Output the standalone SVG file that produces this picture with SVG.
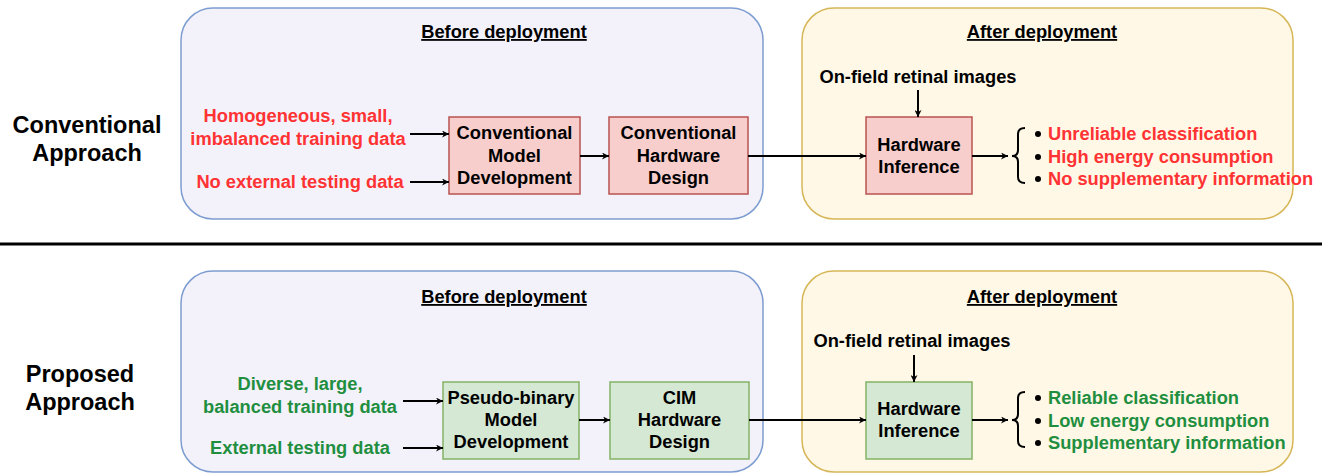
<svg xmlns="http://www.w3.org/2000/svg" width="1324" height="474" viewBox="0 0 1324 474">
<defs>
<marker id="ah" viewBox="0 0 10 10" refX="10" refY="5" markerWidth="9" markerHeight="7" markerUnits="userSpaceOnUse" orient="auto">
<path d="M0,0 L10,5 L0,10 L3,5 Z" fill="#000"/>
</marker>
<style>
text{font-family:"Liberation Sans",Arial,sans-serif;font-weight:bold;font-size:18.3px;fill:#000}
.t{text-anchor:middle}
.title{text-decoration:underline}
.side{font-size:23.5px;text-anchor:middle}
.red{fill:#FF3333}
.green{fill:#1F8F3F}
.pb{fill:#F3F2FB;stroke:#7D9DD0;stroke-width:1.5}
.pa{fill:#FFF8E7;stroke:#D6B656;stroke-width:1.5}
.rb{fill:#F8CECC;stroke:#B85450;stroke-width:1.5}
.gb{fill:#D5E8D4;stroke:#82B366;stroke-width:1.5}
.c{stroke:#000;stroke-width:2;fill:none;marker-end:url(#ah)}
.br{stroke:#000;stroke-width:2;fill:none}
</style>
</defs>
<rect width="1324" height="474" fill="#fff"/>
<g id="labels">
<text class="side" x="87" y="133">Conventional</text>
<text class="side" x="87" y="161">Approach</text>
<text class="side" x="80" y="382">Proposed</text>
<text class="side" x="80" y="410">Approach</text>
<line x1="0" y1="244" x2="1322" y2="244" stroke="#000" stroke-width="3"/>
</g>
<g id="panel-top-before">
<rect class="pb" x="181" y="8" width="582" height="211" rx="32"/>
<text class="t title" x="504" y="38">Before deployment</text>
</g>
<g id="panel-top-after">
<rect class="pa" x="802" y="8" width="491" height="211" rx="32"/>
<text class="t title" x="1042" y="38">After deployment</text>
</g>
<g id="panel-bottom-before">
<rect class="pb" x="181" y="271" width="582" height="201" rx="32"/>
<text class="t title" x="504" y="303">Before deployment</text>
</g>
<g id="panel-bottom-after">
<rect class="pa" x="802" y="271" width="491" height="201" rx="32"/>
<text class="t title" x="1042" y="303">After deployment</text>
</g>
<g id="top-inputs">
<text class="t red" x="298" y="122">Homogeneous, small,</text>
<text class="t red" x="298" y="145">imbalanced training data</text>
<text class="t red" x="300" y="188">No external testing data</text>
<text class="t" x="918" y="83">On-field retinal images</text>
</g>
<g id="node-conv-model">
<rect class="rb" x="449" y="117" width="131" height="77"/>
<text class="t" x="514.5" y="139">Conventional</text>
<text class="t" x="514.5" y="162">Model</text>
<text class="t" x="514.5" y="184">Development</text>
</g>
<g id="node-conv-hw">
<rect class="rb" x="609" y="117" width="139" height="77"/>
<text class="t" x="678.5" y="139">Conventional</text>
<text class="t" x="678.5" y="162">Hardware</text>
<text class="t" x="678.5" y="184">Design</text>
</g>
<g id="node-top-inference">
<rect class="rb" x="866" y="117" width="106" height="77"/>
<text class="t" x="919" y="151">Hardware</text>
<text class="t" x="919" y="173">Inference</text>
</g>
<g id="top-outcomes">
<path class="br" d="M1025,128 Q1018,128 1018,134 L1018,150 Q1018,156 1012,156 Q1018,156 1018,162 L1018,177 Q1018,183 1025,183"/>
<circle cx="1038" cy="134" r="3"/>
<circle cx="1038" cy="157" r="3"/>
<circle cx="1038" cy="179" r="3"/>
<text class="red" x="1048" y="140">Unreliable classification</text>
<text class="red" x="1048" y="163">High energy consumption</text>
<text class="red" x="1048" y="185">No supplementary information</text>
</g>
<g id="bottom-inputs">
<text class="t green" x="300" y="390">Diverse, large,</text>
<text class="t green" x="300" y="413">balanced training data</text>
<text class="t green" x="300" y="454">External testing data</text>
<text class="t" x="912" y="347">On-field retinal images</text>
</g>
<g id="node-pb-model">
<rect class="gb" x="443" y="382" width="136" height="77"/>
<text class="t" x="511" y="404">Pseudo-binary</text>
<text class="t" x="511" y="426">Model</text>
<text class="t" x="511" y="448">Development</text>
</g>
<g id="node-cim-hw">
<rect class="gb" x="610" y="382" width="139" height="77"/>
<text class="t" x="679.5" y="404">CIM</text>
<text class="t" x="679.5" y="426">Hardware</text>
<text class="t" x="679.5" y="448">Design</text>
</g>
<g id="node-bottom-inference">
<rect class="gb" x="866" y="382" width="106" height="77"/>
<text class="t" x="919" y="415">Hardware</text>
<text class="t" x="919" y="437">Inference</text>
</g>
<g id="bottom-outcomes">
<path class="br" d="M1025,392 Q1018,392 1018,398 L1018,414 Q1018,420 1012,420 Q1018,420 1018,426 L1018,441 Q1018,447 1025,447"/>
<circle cx="1038" cy="398" r="3"/>
<circle cx="1038" cy="421" r="3"/>
<circle cx="1038" cy="443" r="3"/>
<text class="green" x="1048" y="404">Reliable classification</text>
<text class="green" x="1048" y="427">Low energy consumption</text>
<text class="green" x="1048" y="449">Supplementary information</text>
</g>
<g id="connectors">
<line class="c" x1="410" y1="134" x2="449" y2="134"/>
<line class="c" x1="410" y1="182" x2="449" y2="182"/>
<line class="c" x1="580" y1="156" x2="609" y2="156"/>
<line class="c" x1="748" y1="156" x2="866" y2="156"/>
<line class="c" x1="918" y1="90" x2="918" y2="117"/>
<line class="c" x1="972" y1="156" x2="1008" y2="156"/>
<line class="c" x1="403" y1="401" x2="443" y2="401"/>
<line class="c" x1="403" y1="448" x2="443" y2="448"/>
<line class="c" x1="579" y1="420" x2="610" y2="420"/>
<line class="c" x1="749" y1="420" x2="866" y2="420"/>
<line class="c" x1="914" y1="355" x2="914" y2="382"/>
<line class="c" x1="972" y1="420" x2="1008" y2="420"/>
</g>
</svg>
